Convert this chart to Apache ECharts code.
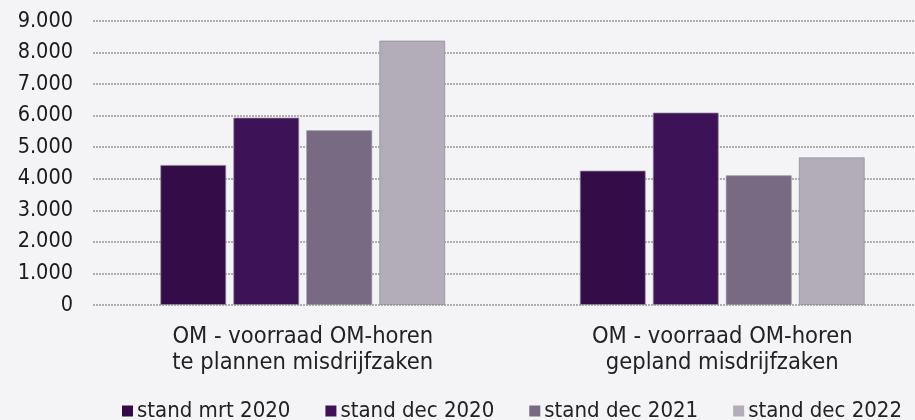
<!DOCTYPE html>
<html>
<head>
<meta charset="utf-8">
<script src="https://cdn.jsdelivr.net/npm/echarts@6/dist/echarts.min.js"></script>
<style>
  html, body { margin: 0; padding: 0; background: #f4f3f6; overflow: hidden; }
  #chart { width: 932px; height: 420px; }
</style>
</head>
<body>
<div id="chart"></div>
<script>
var categories = ['OM - voorraad OM-horen\nte plannen misdrijfzaken', 'OM - voorraad OM-horen\ngepland misdrijfzaken'];
var seriesNames = ['stand mrt 2020', 'stand dec 2020', 'stand dec 2021', 'stand dec 2022'];
var mrt2020 = [4440, 4260];
var dec2020 = [5940, 6100];
var dec2021 = [5540, 4110];
var dec2022 = [8380, 4680];
var colors = ['#340c48', '#3e1256', '#786a82', '#b2adb8'];

var myChart = echarts.init(document.getElementById('chart'));
var font = 'DejaVu Sans Condensed';

var values = [mrt2020, dec2020, dec2021, dec2022];
var series = seriesNames.map(function (name, i) {
    return {
        name: name,
        type: 'bar',
        data: values[i],
        barWidth: 66,
        barGap: '10.6%',
        itemStyle: {
            color: colors[i],
            borderColor: 'rgba(140,140,150,0.7)',
            borderWidth: 1
        }
    };
});

var option = {
    backgroundColor: '#f4f3f6',
    animation: false,
    grid: {
        left: 93,
        right: 0,
        top: 21,
        bottom: 115
    },
    legend: {
        bottom: -7,
        left: 117,
        itemWidth: 11,
        itemHeight: 11,
        itemGap: 35,
        icon: 'rect',
        itemStyle: { borderWidth: 0 },
        textStyle: { fontFamily: font, fontSize: 22, color: '#222', padding: [0, 0, 0, -1] },
        data: seriesNames
    },
    xAxis: {
        type: 'category',
        data: categories,
        axisLine: { show: false },
        axisTick: { show: false },
        axisLabel: {
            margin: 19,
            fontFamily: font,
            fontSize: 23.5,
            lineHeight: 26,
            color: '#222'
        }
    },
    yAxis: {
        type: 'value',
        min: 0,
        max: 9000,
        interval: 1000,
        axisLabel: {
            margin: 20,
            fontFamily: font,
            fontSize: 21.5,
            color: '#1a1a1a',
            formatter: function (v) {
                return v === 0 ? '0' : (v / 1000) + '.000';
            }
        },
        splitLine: {
            lineStyle: { color: '#999', width: 1.5, type: [2, 1] }
        }
    },
    series: series
};

myChart.setOption(option);
window.addEventListener('resize', function () {
    myChart.resize();
});
</script>
</body>
</html>
